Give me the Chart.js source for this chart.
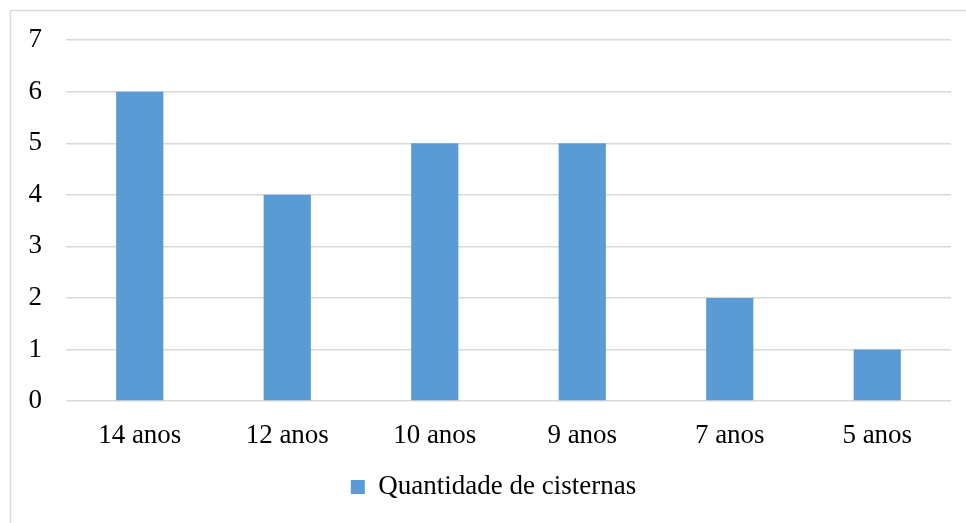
<!DOCTYPE html>
<html>
<head>
<meta charset="utf-8">
<script src="https://cdn.jsdelivr.net/npm/chart.js@4"></script>
<style>
  html, body { margin: 0; padding: 0; background: #ffffff; overflow: hidden; }
  #wrap { position: relative; width: 966px; height: 523px; }
  canvas { display: block; }
</style>
</head>
<body>
<div id="wrap"><canvas id="chart" width="966" height="523"></canvas></div>
<script>
// Number of cisterns by age
const categories = ['14 anos', '12 anos', '10 anos', '9 anos', '7 anos', '5 anos'];
const cisternas = [6, 4, 5, 5, 2, 1];
const seriesName = 'Quantidade de cisternas';
const yTicks = [0, 1, 2, 3, 4, 5, 6, 7];

const FONT = { family: '"Liberation Serif", "Times New Roman", serif', size: 27 };
const GRID = '#d9d9d9';

// Light frame around the whole chart, and the legend centred under the frame
const framePlugin = {
  id: 'frame',
  afterLayout(chart) {
    const lg = chart.legend;
    if (lg) { lg.left += 18; lg.right += 18; }
  },
  beforeDraw(chart) {
    const ctx = chart.ctx;
    ctx.save();
    ctx.fillStyle = '#ffffff';
    ctx.fillRect(0, 0, chart.width, chart.height);
    ctx.strokeStyle = GRID;
    ctx.lineWidth = 1.5;
    ctx.strokeRect(10.5, 10.5, 1200, 1200);
    ctx.restore();
  }
};

new Chart(document.getElementById('chart'), {
  type: 'bar',
  data: {
    labels: categories,
    datasets: [{
      label: seriesName,
      data: cisternas,
      backgroundColor: '#5b9bd5',
      borderWidth: 0,
      categoryPercentage: 1,
      barPercentage: 0.32
    }]
  },
  plugins: [framePlugin],
  options: {
    responsive: false,
    animation: false,
    devicePixelRatio: 1,
    layout: { padding: { left: 0, right: 15, top: 39, bottom: 12.5 } },
    scales: {
      x: {
        grid: { display: false, drawTicks: false },
        border: { display: false },
        ticks: { color: '#000', font: FONT, padding: 19, maxRotation: 0 },
        afterFit(s) { s.height = 62.5; }
      },
      y: {
        min: yTicks[0],
        max: yTicks[yTicks.length - 1],
        grid: { color: GRID, lineWidth: 1.5, drawTicks: false },
        border: { display: false },
        ticks: { color: '#000', font: FONT, padding: 24, stepSize: 1 },
        afterFit(s) { s.width = 66; }
      }
    },
    plugins: {
      legend: {
        position: 'bottom',
        labels: { color: '#000', font: FONT, boxWidth: 14, boxHeight: 14, padding: 10 }
      },
      tooltip: { enabled: false }
    }
  }
});
</script>
</body>
</html>
